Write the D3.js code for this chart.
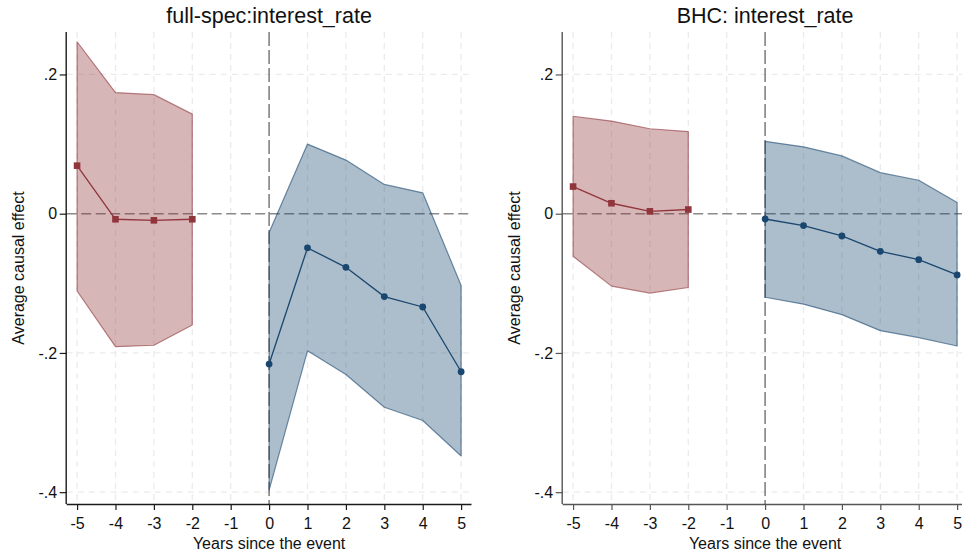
<!DOCTYPE html>
<html>
<head>
<meta charset="utf-8">
<script src="https://cdn.jsdelivr.net/npm/d3@7"></script>
<style>
  html, body { margin: 0; padding: 0; background: #fff; }
  svg { display: block; font-family: "Liberation Sans", Arial, sans-serif; }
</style>
</head>
<body>
<svg id="chart" width="962" height="555"></svg>
<script>
// Event-study estimates: point estimates with 95% confidence bounds
const preYears = [-5, -4, -3, -2];
const postYears = [0, 1, 2, 3, 4, 5];

// full-spec:interest_rate
const fullPreEst   = [0.069, -0.008, -0.0095, -0.008];
const fullPreLo    = [-0.111, -0.191, -0.189, -0.160];
const fullPreHi    = [0.247, 0.174, 0.171, 0.143];
const fullPostEst  = [-0.216, -0.049, -0.077, -0.119, -0.134, -0.227];
const fullPostLo   = [-0.397, -0.197, -0.231, -0.278, -0.297, -0.348];
const fullPostHi   = [-0.027, 0.100, 0.077, 0.042, 0.030, -0.103];

// BHC: interest_rate
const bhcPreEst    = [0.039, 0.015, 0.0034, 0.006];
const bhcPreLo     = [-0.061, -0.104, -0.114, -0.106];
const bhcPreHi     = [0.140, 0.133, 0.122, 0.118];
const bhcPostEst   = [-0.0076, -0.017, -0.032, -0.054, -0.066, -0.088];
const bhcPostLo    = [-0.120, -0.130, -0.145, -0.168, -0.178, -0.190];
const bhcPostHi    = [0.104, 0.096, 0.083, 0.059, 0.048, 0.016];

const xTicks = [-5, -4, -3, -2, -1, 0, 1, 2, 3, 4, 5];
const yTicks = [0.2, 0, -0.2, -0.4];
const yTickLabels = [".2", "0", "-.2", "-.4"];

const panels = [
  { title: "full-spec:interest_rate", left: 66.7, axisColor: "#1a1a1a",
    pre: { est: fullPreEst, lo: fullPreLo, hi: fullPreHi },
    post: { est: fullPostEst, lo: fullPostLo, hi: fullPostHi } },
  { title: "BHC: interest_rate", left: 562.7, axisColor: "#555",
    pre: { est: bhcPreEst, lo: bhcPreLo, hi: bhcPreHi },
    post: { est: bhcPostEst, lo: bhcPostLo, hi: bhcPostHi } }
];

const red = "#90353b";
const blue = "#1a476f";
const plotWidth = 404.8;
const plotTop = 32, plotBottom = 504;

const svg = d3.select("#chart");

panels.forEach(p => {
  const x = d3.scaleLinear().domain([-5.27, 5.27]).range([p.left, p.left + plotWidth]);
  const y = d3.scaleLinear().domain([-0.417, 0.261]).range([plotBottom, plotTop]);
  const g = svg.append("g");

  // Grid
  g.selectAll(".vgrid").data(xTicks.filter(d => d !== 0)).join("line")
    .attr("x1", d => x(d)).attr("x2", d => x(d))
    .attr("y1", plotTop).attr("y2", plotBottom)
    .attr("stroke", "#ebebeb").attr("stroke-width", 1.3)
    .attr("stroke-dasharray", "6,5");
  g.selectAll(".hgrid").data(yTicks.filter(d => d !== 0)).join("line")
    .attr("x1", p.left).attr("x2", p.left + plotWidth)
    .attr("y1", d => y(d)).attr("y2", d => y(d))
    .attr("stroke", "#ebebeb").attr("stroke-width", 1.3)
    .attr("stroke-dasharray", "6,5");

  // Reference lines at zero
  g.append("line")
    .attr("x1", p.left).attr("x2", p.left + plotWidth)
    .attr("y1", y(0)).attr("y2", y(0))
    .attr("stroke", "#8a8a8a").attr("stroke-width", 1.5)
    .attr("stroke-dasharray", "10,4.5");
  g.append("line")
    .attr("x1", x(0)).attr("x2", x(0))
    .attr("y1", plotTop).attr("y2", plotBottom)
    .attr("stroke", "#7a7a7a").attr("stroke-width", 1.5)
    .attr("stroke-dasharray", "14,4");

  // Confidence bands
  const drawBand = (years, s, color) => {
    const pts = years.map((yr, i) => [x(yr), y(s.hi[i])])
      .concat(years.map((yr, i) => [x(yr), y(s.lo[i])]).reverse());
    g.append("path")
      .attr("d", "M" + pts.map(q => q.join(",")).join("L") + "Z")
      .attr("fill", color).attr("fill-opacity", 0.36)
      .attr("stroke", color).attr("stroke-opacity", 0.6).attr("stroke-width", 1.2)
      .attr("stroke-linejoin", "round");
  };
  drawBand(preYears, p.pre, red);
  drawBand(postYears, p.post, blue);

  // Point estimates
  const line = d3.line().x(d => x(d[0])).y(d => y(d[1]));
  const preData = preYears.map((yr, i) => [yr, p.pre.est[i]]);
  const postData = postYears.map((yr, i) => [yr, p.post.est[i]]);
  g.append("path").attr("d", line(preData)).attr("fill", "none")
    .attr("stroke", red).attr("stroke-width", 1.3);
  g.append("path").attr("d", line(postData)).attr("fill", "none")
    .attr("stroke", blue).attr("stroke-width", 1.3);
  g.selectAll(".sq").data(preData).join("rect")
    .attr("x", d => x(d[0]) - 3.3).attr("y", d => y(d[1]) - 3.3)
    .attr("width", 6.6).attr("height", 6.6).attr("fill", red);
  g.selectAll(".dot").data(postData).join("circle")
    .attr("cx", d => x(d[0])).attr("cy", d => y(d[1]))
    .attr("r", 3.4).attr("fill", blue);

  // Axes
  const xAxis = g.append("g").attr("transform", `translate(0,${plotBottom})`)
    .call(d3.axisBottom(x).tickValues(xTicks).tickSize(6).tickPadding(7.5)
      .tickFormat(d => String(d)));
  const yAxis = g.append("g").attr("transform", `translate(${p.left},0)`)
    .call(d3.axisLeft(y).tickValues(yTicks).tickSize(7).tickPadding(2.5)
      .tickFormat((d, i) => yTickLabels[i]));
  [xAxis, yAxis].forEach(a => {
    a.select(".domain").attr("stroke", p.axisColor).attr("stroke-width", 1.4);
    a.selectAll(".tick line").attr("stroke", p.axisColor).attr("stroke-width", 1.2);
    a.selectAll(".tick text").attr("fill", "#111").attr("font-size", 16)
      .attr("font-family", "Liberation Sans, Arial, sans-serif");
  });
  xAxis.select(".domain").attr("d", `M${p.left},0.5H${p.left + plotWidth}`);
  yAxis.select(".domain").attr("d", `M-0.5,${plotTop}V${plotBottom}`);

  // Titles
  const cx = x(0);
  g.append("text").attr("x", cx).attr("y", 23.3).attr("text-anchor", "middle")
    .attr("font-size", 21.5).attr("fill", "#111").text(p.title);
  g.append("text").attr("x", cx).attr("y", 548.7).attr("text-anchor", "middle")
    .attr("font-size", 16).attr("fill", "#111").text("Years since the event");
  g.append("text")
    .attr("transform", `translate(${p.left - 43},${(plotTop + plotBottom) / 2}) rotate(-90)`)
    .attr("text-anchor", "middle").attr("font-size", 16).attr("fill", "#111")
    .text("Average causal effect");
});
</script>
</body>
</html>
